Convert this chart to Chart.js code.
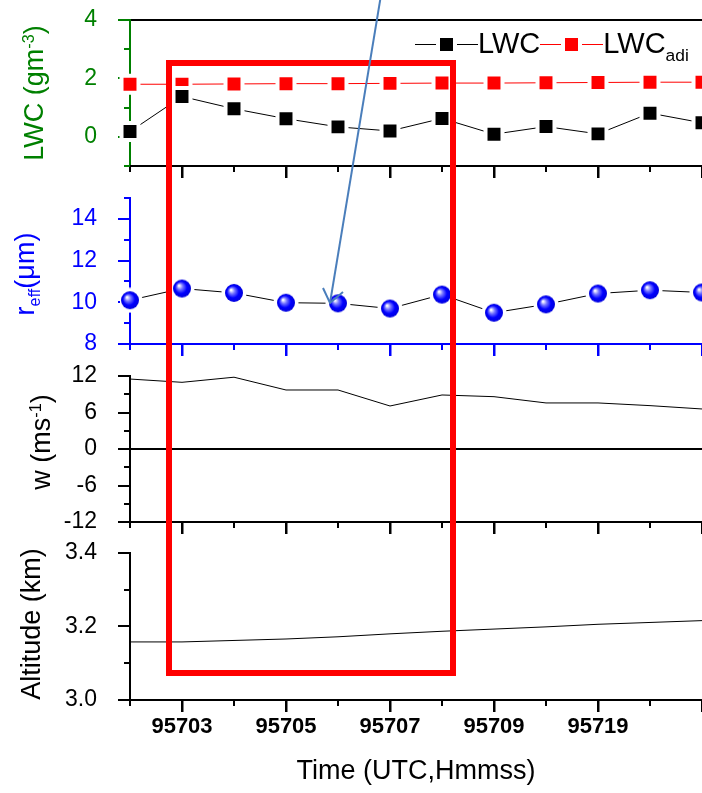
<!DOCTYPE html>
<html>
<head>
<meta charset="utf-8">
<script src="https://cdn.jsdelivr.net/npm/chart.js@4/dist/chart.umd.min.js"></script>
<style>
  html, body { margin: 0; padding: 0; background: #fff; }
  #wrap { position: relative; width: 702px; height: 793px; overflow: hidden; font-family: 'Liberation Sans', Arial, sans-serif; }
  #wrap canvas { position: absolute; left: 0; display: block; }
  #c1 { z-index: 2; }
  .ytitle { position: absolute; z-index: 3; white-space: nowrap; font-size: 27px; line-height: 1; transform: translate(-50%, -50%) rotate(-90deg); }
  .sup { position: relative; top: -0.55em; font-size: 0.6em; }
  .sub { position: relative; top: 0.35em; font-size: 0.6em; }
  #legend { position: absolute; z-index: 3; left: 415px; top: 29px; font-size: 29px; line-height: 1; white-space: nowrap; display: flex; align-items: center; }
  .sym { display: inline-block; position: relative; width: 63px; height: 20px; }
  .sym::before { content: ''; position: absolute; left: 0; right: 0; top: 10px; border-top: 1px solid var(--c); }
  .sym i { position: absolute; left: 25px; top: 4px; width: 13px; height: 13px; background: var(--c); box-shadow: 0 0 0 4px #fff; }
  #box { position: absolute; z-index: 3; left: 166px; top: 60px; width: 290px; height: 616px; border: 6px solid #ff0000; box-sizing: border-box; }
  #arrow { position: absolute; z-index: 3; left: 0; top: 0; }
</style>
</head>
<body>
<div id="wrap">
  <canvas id="c1" width="702" height="185" style="top:0"></canvas>
  <canvas id="c2" width="702" height="175" style="top:185px"></canvas>
  <canvas id="c3" width="702" height="178" style="top:360px"></canvas>
  <canvas id="c4" width="702" height="255" style="top:538px"></canvas>

  <div class="ytitle" style="left:34px;top:93px;color:#008000">LWC (gm<span class="sup">-3</span>)</div>
  <div class="ytitle" style="left:25px;top:274px;color:#0000ff">r<span class="sub">eff</span>(μm)</div>
  <div class="ytitle" style="left:41px;top:442px;color:#000">w (ms<span class="sup">-1</span>)</div>
  <div class="ytitle" style="left:31px;top:624px;color:#000">Altitude (km)</div>

  <div id="legend">
    <span class="sym" style="--c:#000"><i></i></span><span>LWC</span><span class="sym" style="--c:#ff0000"><i></i></span><span>LWC<span class="sub" style="top:0.45em">adi</span></span>
  </div>

  <div id="box"></div>
  <svg id="arrow" width="702" height="793">
    <g stroke="#4a7ebb" stroke-width="2" fill="none">
      <line x1="381" y1="-5" x2="330" y2="303"></line>
      <polyline points="323,288 330,303 343,292"></polyline>
    </g>
  </svg>
</div>

<script>
  const TIMES = ['95702', '95703', '95704', '95705', '95706', '95707', '95708', '95709', '95710', '95719', '95720', '95721'];
  const LWC = [0.18, 1.38, 0.96, 0.62, 0.34, 0.20, 0.63, 0.09, 0.35, 0.10, 0.81, 0.48];
  const LWC_ADI = [1.80, 1.80, 1.81, 1.82, 1.82, 1.83, 1.84, 1.84, 1.85, 1.86, 1.87, 1.87];
  const R_EFF = [10.10, 10.66, 10.45, 9.98, 9.95, 9.70, 10.37, 9.50, 9.90, 10.42, 10.58, 10.47];
  const W = [11.5, 10.96, 11.8, 9.7, 9.7, 7.07, 8.88, 8.6, 7.57, 7.57, 7.13, 6.58];
  const ALTITUDE = [3.158, 3.158, 3.162, 3.166, 3.172, 3.180, 3.187, 3.193, 3.199, 3.206, 3.211, 3.216];

  const GREEN = '#008000';
  const BLUE = '#0000ff';
  const NONE = 'rgba(0,0,0,0)';

  Chart.defaults.font.family = "'Liberation Sans', Arial, sans-serif";
  Chart.defaults.animation = false;

  // blue ball marker with a white ring so the line stops short of it
  function sphere() {
    const c = document.createElement('canvas');
    c.width = c.height = 26;
    const g = c.getContext('2d');
    g.fillStyle = '#fff';
    g.beginPath(); g.arc(13, 13, 12.5, 0, Math.PI * 2); g.fill();
    const grad = g.createRadialGradient(10, 10, 0.5, 13, 13, 9);
    grad.addColorStop(0, '#ffffff');
    grad.addColorStop(0.3, '#7373ff');
    grad.addColorStop(0.65, '#0000ff');
    grad.addColorStop(1, '#0000dc');
    g.fillStyle = grad;
    g.beginPath(); g.arc(13, 13, 9, 0, Math.PI * 2); g.fill();
    return c;
  }

  // major ticks sit at odd category indices; the last one runs off the edge unlabelled
  const xMajor = i => i % 2 === 1;

  // short minor tick marks (Chart.js only does one tick length),
  // plus the bottom axis line drawn once more on top of everything
  function minorTicks(yMajor, yColor, xColor) {
    return {
      id: 'minorTicks',
      afterDraw(chart) {
        const ctx = chart.ctx, x = chart.scales.x, y = chart.scales.y;
        const base = Math.round(x.top);
        ctx.save();
        ctx.fillStyle = xColor;
        ctx.fillRect(x.left - 1, base - 1, x.right - x.left + 1, 2);
        ctx.lineWidth = 2;
        ctx.strokeStyle = xColor;
        x.ticks.forEach((t, i) => {
          const px = Math.round(x.getPixelForTick(i));
          ctx.beginPath(); ctx.moveTo(px, base); ctx.lineTo(px, base + (xMajor(i) ? 12 : 6)); ctx.stroke();
        });
        ctx.strokeStyle = yColor;
        y.ticks.forEach((t, i) => {
          if (yMajor(t.value)) return;
          const py = Math.round(y.getPixelForTick(i));
          ctx.beginPath(); ctx.moveTo(y.right, py); ctx.lineTo(y.right - 6, py); ctx.stroke();
        });
        ctx.restore();
      }
    };
  }

  // fixed axis sizes so the four panels line up exactly
  function fixY(s) {
    s.width = 130;
    s.paddingTop = s.paddingBottom = 0;
  }

  function yScale(o) {
    const lines = o.lines || [];
    return {
      min: o.min, max: o.max,
      afterFit: fixY,
      // every step gets a tick, even where the panel is short
      afterBuildTicks: s => {
        const n = Math.round((o.max - o.min) / o.step);
        s.ticks = [];
        for (let k = 0; k <= n; k++) {
          s.ticks.push({ value: Math.round((o.min + k * o.step) * 1000) / 1000 });
        }
      },
      border: { color: o.color, width: 2 },
      grid: {
        drawOnChartArea: lines.length > 0,
        color: c => (c.tick && lines.includes(c.tick.value)) ? '#000' : NONE,
        lineWidth: 2,
        tickLength: 12,
        tickWidth: 2,
        tickColor: c => (c.tick && o.major(c.tick.value)) ? o.color : NONE
      },
      ticks: {
        autoSkip: false,
        color: o.color, padding: 21, font: { size: 23 },
        callback: v => o.major(v) ? o.fmt(v) : ''
      }
    };
  }

  function xScale(o) {
    return {
      type: 'category',
      afterFit: s => {
        s.height = o.height;
        s.paddingLeft = s.paddingRight = 0;
      },
      border: { color: o.color, width: 2 },
      grid: {
        drawOnChartArea: false, tickLength: 12, tickWidth: 2,
        tickColor: c => xMajor(c.index) ? o.color : NONE
      },
      ticks: {
        display: !!o.labels, autoSkip: false, maxRotation: 0, color: '#000', padding: 2,
        font: { size: 22, weight: 'bold' },
        callback: (v, i) => (xMajor(i) && i < TIMES.length - 1) ? TIMES[i] : ''
      },
      title: o.labels ? {
        display: true, text: 'Time (UTC,Hmmss)', color: '#000',
        font: { size: 27 }, padding: { top: 0, bottom: 5 }
      } : { display: false }
    };
  }

  function panel(id, datasets, opts) {
    return new Chart(document.getElementById(id), {
      type: 'line',
      data: { labels: TIMES, datasets: datasets },
      options: {
        responsive: false,
        maintainAspectRatio: false,
        layout: { autoPadding: false, padding: { top: opts.top, right: 0, bottom: 0, left: 0 } },
        plugins: { legend: { display: false }, tooltip: { enabled: false } },
        scales: { x: xScale(opts.x), y: yScale(opts.y) }
      },
      plugins: [minorTicks(opts.y.major, opts.y.color, opts.x.color)]
    });
  }

  const even = v => Math.round(v) % 2 === 0;

  panel('c1', [
    {
      label: 'LWC', data: LWC, borderColor: '#000', borderWidth: 1, fill: false,
      pointStyle: 'rect', pointRadius: 12, pointBackgroundColor: '#000',
      pointBorderColor: '#fff', pointBorderWidth: 4
    },
    {
      label: 'LWCadi', data: LWC_ADI, borderColor: '#ff0000', borderWidth: 1, fill: false,
      pointStyle: 'rect', pointRadius: 12, pointBackgroundColor: '#ff0000',
      pointBorderColor: '#fff', pointBorderWidth: 4
    }
  ], {
    top: 20,
    x: { height: 19, color: '#000' },
    y: { min: -1, max: 4, step: 1, color: GREEN, lines: [4, -1], major: even, fmt: v => String(v) }
  });

  panel('c2', [
    {
      label: 'reff', data: R_EFF, borderColor: '#000', borderWidth: 1,
      pointStyle: sphere(), pointRadius: 9
    }
  ], {
    top: 13,
    x: { height: 16, color: BLUE },
    y: { min: 8, max: 15, step: 1, color: BLUE, major: even, fmt: v => String(v) }
  });

  panel('c3', [
    { label: 'w', data: W, borderColor: '#000', borderWidth: 1, pointRadius: 0 }
  ], {
    top: 16,
    x: { height: 16, color: '#000' },
    y: { min: -12, max: 12, step: 3, color: '#000', lines: [0],
         major: v => Math.round(v) % 6 === 0, fmt: v => String(v) }
  });

  panel('c4', [
    { label: 'Altitude', data: ALTITUDE, borderColor: '#000', borderWidth: 1, pointRadius: 0 }
  ], {
    top: 15,
    x: { height: 93, color: '#000', labels: true },
    y: { min: 3.0, max: 3.4, step: 0.1, color: '#000',
         major: v => Math.round(v * 10) % 2 === 0, fmt: v => v.toFixed(1) }
  });
</script>
</body>
</html>
